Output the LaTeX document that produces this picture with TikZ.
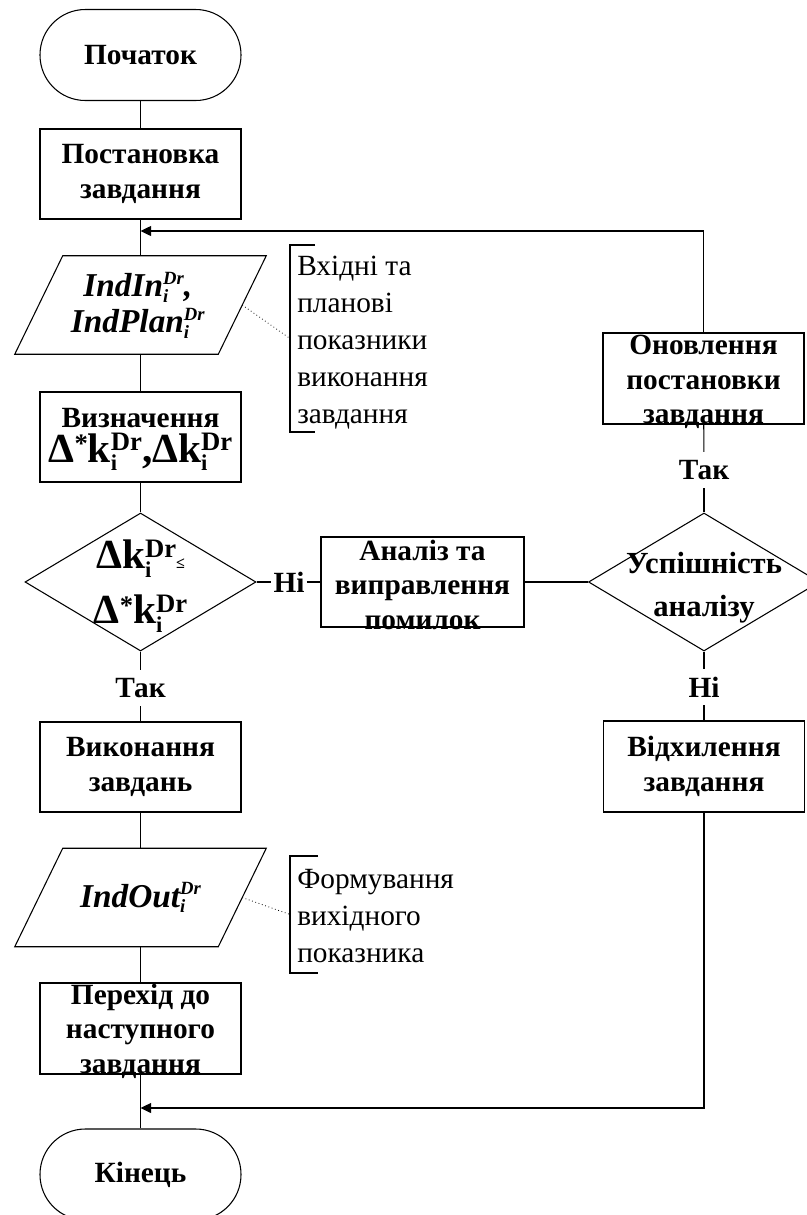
\documentclass[tikz,border=0pt]{standalone}
\usepackage{fontspec}
\setmainfont{Liberation Serif}
\usetikzlibrary{arrows.meta,shapes.geometric}

% sub- and superscript stacked at the same position
\newcommand\scr[4]{\rlap{\raisebox{-#1}{#3}}\raisebox{#2}{#4}}
% formula scripts and input/output scripts
\newcommand\fsA{\fontsize{20}{20}\selectfont}
\newcommand\fsI{\fontsize{17}{17}\selectfont}
\newcommand\fsB{\fontsize{14}{14}\selectfont}
\newcommand\kiDr{k{\scr{6.5pt}{8.5pt}{\fsI i}{\fsA Dr}}}
\newcommand\supstar{\raisebox{7pt}{\fsA *}}
\newcommand\ioDr{{\scr{4pt}{9.5pt}{\fsB i}{\fsB Dr}}}

\tikzset{
  ln/.style={line width=0.8pt},
  arr/.style={line width=1pt,-{Triangle[length=8pt,width=7.5pt]}},
  proc/.style={draw,line width=0.8pt,minimum width=150.75pt,minimum height=67.5pt,inner sep=0pt},
  term/.style={draw,line width=0.8pt,rounded corners=34pt,minimum width=150.75pt,minimum height=68.25pt,inner sep=0pt},
  dec/.style={draw,diamond,line width=0.8pt,minimum width=173.25pt,minimum height=103.5pt,inner sep=0pt},
  iobox/.style={minimum width=116.25pt,minimum height=73.5pt,inner sep=0pt},
  lbl/.style={font=\bfseries\fontsize{22}{26}\selectfont,align=center,inner sep=0pt},
  ans/.style={font=\bfseries\fontsize{22}{26}\selectfont,inner xsep=1.5pt,inner ysep=6pt},
  note/.style={font=\fontsize{22}{27.75}\selectfont,align=left,inner sep=0pt,anchor=west},
  para/.style={font=\bfseries\itshape\fontsize{25}{27}\selectfont,align=center,inner sep=0pt},
  frm/.style={font=\bfseries\fontsize{31}{41}\selectfont,align=center,inner sep=0pt},
}

\begin{document}
\begin{tikzpicture}[x=0.75pt,y=-0.75pt]
\useasboundingbox (0,0) rectangle (807,1215);

% main column
\node[term] (start) at (140.5,55) {};
\node[lbl] (startt) at (start) {Початок};
\node[proc] (b1) at (140.5,174) {};
\node[lbl] (b1t) at (b1) {Постановка\\завдання};
\node[iobox] (p1) at (140.5,305) {};
\draw[ln] (p1.north west) -- ([xshift=36pt]p1.north east) -- (p1.south east) -- ([xshift=-36pt]p1.south west) -- cycle;
\node[para] (p1t) at ([xshift=-2pt]p1.center) {IndIn\ioDr,\\IndPlan\ioDr};
\node[proc] (b2) at (140.5,437) {};
\node[lbl] (b2t) at ([yshift=-2pt]b2.center) {Визначення\\[0pt]{\fontsize{31}{31}\selectfont Δ\supstar\kiDr,Δ\kiDr}};
\node[dec] (d1) at (140.5,582) {};
\node[frm] (d1t) at ([yshift=-3pt]d1.center) {Δ\kiDr{\fontsize{12}{12}\selectfont ≤}\\Δ\supstar\kiDr};
\node[ans] (t1) at (140.5,688) {Так};
\node[proc] (b3) at (140.5,767) {};
\node[lbl] (b3t) at (b3) {Виконання\\завдань};
\node[iobox] (p2) at (140.5,897.5) {};
\draw[ln] (p2.north west) -- ([xshift=36pt]p2.north east) -- (p2.south east) -- ([xshift=-36pt]p2.south west) -- cycle;
\node[para] (p2t) at (p2) {IndOut\ioDr};
\node[proc,minimum height=68.25pt] (b4) at (140.5,1028.5) {};
\node[lbl] (b4t) at ([yshift=-2pt]b4.center) {Перехід до\\наступного\\завдання};
\node[term] (fin) at (140.5,1174.5) {};
\node[lbl] (fint) at (fin) {Кінець};

% analysis branch
\node[ans] (n1) at (289,582) {Ні};
\node[proc,minimum width=152.25pt] (an) at (422.5,582) {};
\node[lbl] (ant) at ([yshift=-2pt]an.center) {Аналіз та\\виправлення\\помилок};
\node[dec] (d2) at (704,582) {};
\node[lbl,font=\bfseries\fontsize{23}{32}\selectfont] (d2t) at ([yshift=-4pt]d2.center) {Успішність\\аналізу};
\node[ans] (t2) at (704,470) {Так};
\node[proc,minimum height=68.25pt] (upd) at (703.5,378.5) {};
\node[lbl] (updt) at ([yshift=-2.5pt]upd.center) {Оновлення\\постановки\\завдання};
\node[ans] (n2) at (704,687) {Ні};
\node[proc,minimum height=68.25pt] (rej) at (704,766.5) {};
\node[lbl] (rejt) at (rej) {Відхилення\\завдання};

\coordinate (fb1) at (140.5,231);
\coordinate (fb2) at (140.5,1108);

% connectors
\draw[ln] (start) -- (b1);
\draw[ln] (b1) -- (p1);
\draw[ln] (p1) -- (b2);
\draw[ln] (b2) -- (d1);
\draw[ln] (d1) -- (t1);
\draw[ln] (t1) -- (b3);
\draw[ln] (b3) -- (p2);
\draw[ln] (p2) -- (b4);
\draw[ln] (b4) -- (fin);
\draw[ln] (d1.east) -- (n1);
\draw[ln] (n1) -- (an);
\draw[ln] (an) -- (d2.west);
\draw[ln] (d2) -- (t2);
\draw[ln] (t2) -- (upd);
\draw[ln] (d2) -- (n2);
\draw[ln] (n2) -- (rej);
\draw[arr] (upd.north) |- (fb1);
\draw[arr] (rej.south) |- (fb2);

% annotations
\node[note] (a1) at (297,343) {Вхідні та\\планові\\показники\\виконання\\завдання};
\coordinate (a1m) at (290,338.5);
\draw[ln] (315,245) -- (290,245) -- (290,432) -- (315,432);
\coordinate (p1r) at ([xshift=18pt]p1.east);
\draw[dotted,line width=0.6pt] (p1r) -- (a1m);

\node[note] (a2) at (297,916) {Формування\\вихідного\\показника};
\coordinate (a2m) at (290,914.5);
\draw[ln] (318,856) -- (290,856) -- (290,973) -- (318,973);
\coordinate (p2r) at ([xshift=18pt]p2.east);
\draw[dotted,line width=0.6pt] (p2r) -- (a2m);
\end{tikzpicture}
\end{document}
